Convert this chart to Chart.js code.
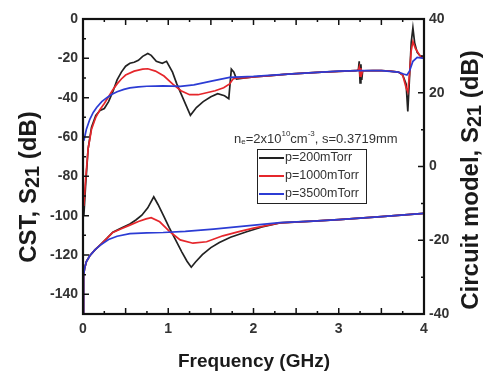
<!DOCTYPE html>
<html>
<head>
<meta charset="utf-8">
<script src="https://cdn.jsdelivr.net/npm/chart.js@4.4.1/dist/chart.umd.min.js"></script>
<style>
  html, body { margin: 0; padding: 0; background: #fff; }
  canvas { display: block; }
</style>
</head>
<body>
<canvas id="s21_chart" width="483" height="377" style="width:483px;height:377px"></canvas>
<script>
// CST simulation, left axis (dB)
var cstFreq200 = [0.01,0.03,0.06,0.1,0.15,0.2,0.25,0.3,0.35,0.4,0.45,0.5,0.55,0.6,0.65,0.7,0.76,0.8,0.86,0.93,0.98,1.05,1.1,1.18,1.26,1.33,1.41,1.5,1.58,1.66,1.71,1.74,1.77,1.8,1.9,2.0,2.2,2.4,2.6,2.8,3.0,3.2,3.23,3.24,3.25,3.26,3.27,3.28,3.3,3.4,3.5,3.6,3.7,3.75,3.79,3.81,3.83,3.85,3.87,3.89,3.92,3.96,4.0];
var cst200 = [-100,-85,-66,-55,-49,-46.5,-45.5,-42,-37,-31,-27,-24,-22.5,-22,-21,-19,-17.5,-18.5,-21.5,-22.5,-21.5,-27,-33,-41,-49,-45,-42,-39.5,-38,-39,-40.5,-25.5,-27,-30.5,-30,-29.5,-28.8,-28,-27.5,-27,-26.6,-26.3,-26,-21.5,-32.5,-23,-31,-26.5,-26.3,-26.2,-26.2,-26.5,-27,-28.5,-33,-47,-30,-12,-4.5,-12,-17,-19,-20];

var cstFreq1000 = [0.01,0.03,0.06,0.1,0.15,0.2,0.25,0.3,0.35,0.4,0.45,0.5,0.6,0.7,0.76,0.85,0.95,1.05,1.15,1.25,1.35,1.45,1.55,1.65,1.72,1.76,1.8,1.9,2.0,2.2,2.4,2.6,2.8,3.0,3.2,3.23,3.24,3.25,3.26,3.27,3.28,3.3,3.4,3.5,3.6,3.7,3.75,3.79,3.81,3.83,3.85,3.87,3.9,3.95,4.0];
var cst1000 = [-95,-82,-66,-56,-50,-46,-43,-39.5,-36,-33,-30.5,-28.5,-26.5,-25.5,-25.3,-26.5,-29,-33,-36.5,-38.5,-38.5,-37.5,-36.5,-35,-33,-30.5,-30,-30,-29.5,-28.8,-28,-27.5,-27,-26.6,-26.3,-26,-24.5,-29,-25,-28,-26.5,-26.3,-26.2,-26.2,-26.5,-27,-28.5,-35,-37,-28,-16,-11.5,-15,-18.5,-20];

var cstFreq3500 = [0.01,0.02,0.04,0.08,0.12,0.16,0.22,0.28,0.34,0.4,0.48,0.55,0.65,0.75,0.94,1.14,1.3,1.52,1.72,2.0,2.5,3.0,3.25,3.5,3.7,3.76,3.8,3.83,3.87,3.92,4.0];
var cst3500 = [-62,-60,-56,-51,-47.5,-45,-42,-40,-38.3,-37,-35.8,-35,-34.5,-34.2,-34,-34.3,-33.5,-31.5,-29.7,-29.2,-27.8,-26.5,-26.2,-26.3,-27,-28,-28.5,-26.5,-21.5,-19.5,-20];

// circuit model, right axis (dB)
var cktFreq200 = [0,0.003,0.01,0.02,0.04,0.08,0.14,0.2,0.28,0.35,0.45,0.55,0.62,0.69,0.76,0.83,0.88,0.95,1.01,1.08,1.16,1.22,1.27,1.32,1.4,1.5,1.6,1.73,1.92,2.1,2.31,2.7,3.0,3.5,4.0];
var ckt200 = [-40,-33,-29.5,-27.5,-25.8,-24.2,-22.6,-21.3,-19.5,-17.8,-16.7,-15.6,-14.5,-13.2,-11.2,-8.2,-10.3,-13.6,-16.5,-19.6,-23.2,-25.7,-27.3,-25.9,-23.9,-22,-20.6,-19.2,-17.7,-16.4,-15.3,-14.8,-14.4,-13.6,-12.7];

var cktFreq1000 = [0,0.003,0.01,0.02,0.04,0.08,0.14,0.2,0.28,0.35,0.45,0.55,0.65,0.74,0.8,0.9,1.02,1.14,1.29,1.45,1.64,1.84,2.0,2.31,2.7,3.0,3.5,4.0];
var ckt1000 = [-40,-33,-29.5,-27.5,-25.8,-24.2,-22.6,-21.3,-19.5,-17.9,-16.9,-15.9,-14.9,-14.2,-13.9,-15,-17.7,-19.9,-20.8,-20.4,-18.8,-17.6,-16.7,-15.3,-14.8,-14.4,-13.6,-12.7];

var cktFreq3500 = [0,0.003,0.01,0.02,0.04,0.08,0.14,0.2,0.3,0.4,0.55,0.75,0.94,1.2,1.53,1.92,2.31,2.7,3.0,3.5,4.0];
var ckt3500 = [-40,-33,-29.5,-27.5,-25.8,-24.2,-22.6,-21.4,-19.8,-18.9,-18.2,-18,-17.9,-17.6,-17,-16.1,-15.2,-14.8,-14.4,-13.6,-12.7];

var legendLabels = ['p=200mTorr', 'p=1000mTorr', 'p=3500mTorr'];
var freqTicks = [0, 1, 2, 3, 4];
var cstTicks = [-140, -120, -100, -80, -60, -40, -20, 0];
var cktTicks = [-40, -20, 0, 20, 40];

var colours = ['#222222', '#e5262b', '#2c3cd4'];
var tickFont = {family: 'Liberation Sans', size: 14, weight: 'bold'};

function pts(f, v) {
  return f.map(function (x, i) { return {x: x, y: v[i]}; });
}

function line(data, axis, c, ord) {
  return {data: data, yAxisID: axis, borderColor: colours[c], borderWidth: 1.7,
          pointRadius: 0, tension: 0, order: ord, fill: false};
}

// draws text pieces with sub/superscripts
function richText(ctx, parts, x, y, align, weight) {
  var total = 0;
  var w = weight ? weight + ' ' : '';
  parts.forEach(function (p) { ctx.font = w + p.size + 'px "Liberation Sans"'; p.w = ctx.measureText(p.t).width; total += p.w; });
  var cx = align === 'center' ? x - total / 2 : x;
  parts.forEach(function (p) {
    ctx.font = w + p.size + 'px "Liberation Sans"';
    ctx.fillText(p.t, cx, y + (p.dy || 0));
    cx += p.w;
  });
}

var decor = {
  id: 'decor',
  afterDatasetsDraw: function (chart) {
    var ctx = chart.ctx, a = chart.chartArea;
    var x = chart.scales.x, y = chart.scales.y, y2 = chart.scales.y2;
    ctx.save();
    ctx.strokeStyle = '#111';
    ctx.lineWidth = 1.5;
    ctx.beginPath();
    for (var i = 1; i < 16; i++) {
      var px = x.getPixelForValue(i * 0.25), len = i % 2 === 0 ? 6 : 3;
      ctx.moveTo(px, a.bottom); ctx.lineTo(px, a.bottom - len);
      ctx.moveTo(px, a.top); ctx.lineTo(px, a.top + len);
    }
    for (var v = -140; v < 0; v += 10) {
      var py = y.getPixelForValue(v);
      ctx.moveTo(a.left, py); ctx.lineTo(a.left + (v % 20 === 0 ? 6 : 3), py);
    }
    for (var w = -30; w < 40; w += 10) {
      var qy = y2.getPixelForValue(w);
      ctx.moveTo(a.right, qy); ctx.lineTo(a.right - (w % 20 === 0 ? 6 : 3), qy);
    }
    ctx.stroke();
    ctx.lineWidth = 2.2;
    ctx.strokeRect(a.left, a.top, a.right - a.left, a.bottom - a.top);
    ctx.restore();
  },
  afterDraw: function (chart) {
    var ctx = chart.ctx;
    ctx.save();
    ctx.fillStyle = '#1a1a1a';
    ctx.textBaseline = 'middle';

    // axis titles
    ctx.font = 'bold 19px "Liberation Sans"';
    ctx.textAlign = 'center';
    ctx.fillText('Frequency (GHz)', 254, 362);
    ctx.textAlign = 'left';

    ctx.save();
    ctx.translate(29, 187);
    ctx.rotate(-Math.PI / 2);
    richText(ctx, [{t: 'CST, S', size: 24}, {t: '21', size: 20, dy: 4}, {t: ' (dB)', size: 24}], 0, 0, 'center', 'bold');
    ctx.restore();

    ctx.save();
    ctx.translate(471, 180);
    ctx.rotate(-Math.PI / 2);
    richText(ctx, [{t: 'Circuit model, S', size: 24}, {t: '21', size: 20, dy: 4}, {t: ' (dB)', size: 24}], 0, 0, 'center', 'bold');
    ctx.restore();

    // annotation
    ctx.fillStyle = '#333';
    richText(ctx, [{t: 'n', size: 13}, {t: 'e', size: 8, dy: 3}, {t: '=2x10', size: 13}, {t: '10', size: 8, dy: -5},
                   {t: 'cm', size: 13}, {t: '-3', size: 8, dy: -5}, {t: ', s=0.3719mm', size: 13}], 234, 139, 'left');

    // legend box
    var bx = 257, by = 149, bw = 109, bh = 54;
    ctx.fillStyle = '#fff';
    ctx.fillRect(bx, by, bw, bh);
    ctx.strokeStyle = '#222';
    ctx.lineWidth = 1;
    ctx.strokeRect(bx + 0.5, by + 0.5, bw, bh);
    ctx.font = '12.5px "Liberation Sans"';
    for (var k = 0; k < legendLabels.length; k++) {
      var ly = by + 9 + k * 18;
      ctx.strokeStyle = colours[k];
      ctx.lineWidth = 2;
      ctx.beginPath();
      ctx.moveTo(bx + 2, ly); ctx.lineTo(bx + 27, ly);
      ctx.stroke();
      ctx.fillStyle = '#333';
      ctx.fillText(legendLabels[k], bx + 28, ly);
    }
    ctx.restore();
  }
};

var s21Chart = new Chart(document.getElementById('s21_chart').getContext('2d'), {
  type: 'line',
  data: {
    datasets: [
      line(pts(cstFreq200, cst200), 'y', 0, 2),
      line(pts(cstFreq1000, cst1000), 'y', 1, 1),
      line(pts(cstFreq3500, cst3500), 'y', 2, 0),
      line(pts(cktFreq200, ckt200), 'y2', 0, 2),
      line(pts(cktFreq1000, ckt1000), 'y2', 1, 1),
      line(pts(cktFreq3500, ckt3500), 'y2', 2, 0)
    ]
  },
  options: {
    responsive: false,
    animation: false,
    layout: {padding: {top: 19}},
    plugins: {legend: {display: false}, tooltip: {enabled: false}},
    scales: {
      x: {
        type: 'linear', min: 0, max: 4,
        afterBuildTicks: function (s) { s.ticks = freqTicks.map(function (v) { return {value: v}; }); },
        afterFit: function (s) { s.height = 63; },
        ticks: {font: tickFont, color: '#333', padding: 7, maxRotation: 0},
        grid: {display: false, drawTicks: false},
        border: {display: false}
      },
      y: {
        position: 'left', min: -150, max: 0,
        afterBuildTicks: function (s) { s.ticks = cstTicks.map(function (v) { return {value: v}; }); },
        afterFit: function (s) { s.width = 83; },
        ticks: {font: tickFont, color: '#333', padding: 5},
        grid: {display: false, drawTicks: false},
        border: {display: false}
      },
      y2: {
        position: 'right', min: -40, max: 40,
        afterBuildTicks: function (s) { s.ticks = cktTicks.map(function (v) { return {value: v}; }); },
        afterFit: function (s) { s.width = 59; },
        ticks: {font: tickFont, color: '#333', padding: 5},
        grid: {display: false, drawTicks: false},
        border: {display: false}
      }
    }
  },
  plugins: [decor]
});
</script>
</body>
</html>
